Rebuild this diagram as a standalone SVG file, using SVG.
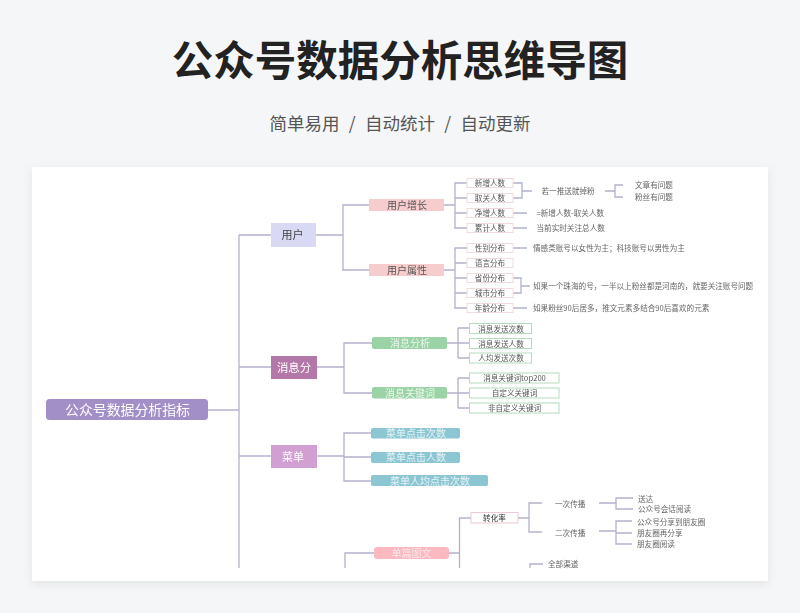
<svg xmlns="http://www.w3.org/2000/svg" width="800" height="613" viewBox="0 0 800 613">
<style>
text{font-family:"Noto Sans CJK SC","Liberation Sans",sans-serif;text-anchor:middle;dominant-baseline:central;transform:translateY(-0.8px)}
.c path{fill:none;stroke:#b3b1cb;stroke-width:1.3}
.l{font-size:7.6px;fill:#555;transform:translateY(-0.3px)}
.t{font-size:7.6px;fill:#666;text-anchor:start;transform:translateY(-0.3px)}
.w{fill:#fff}
.box{fill:#fff;stroke-width:1}
.pk{stroke:#f0dcdc}
.gn{stroke:#b5dcbc}
</style>
<defs>
<filter id="soft" x="-2%" y="-2%" width="104%" height="104%"><feGaussianBlur stdDeviation="0.35"/></filter>
<filter id="sh" x="-5%" y="-5%" width="110%" height="110%"><feGaussianBlur stdDeviation="5"/></filter>
</defs>
<rect width="800" height="613" fill="#f5f6f7"/>
<text x="400" y="58.500" font-size="41.500" font-weight="700" fill="#222">公众号数据分析思维导图</text>
<text x="400" y="123.500" font-size="17.500" fill="#555" xml:space="preserve" word-spacing="0.750">简单易用  /  自动统计  /  自动更新</text>
<rect x="32" y="170" width="736" height="414" fill="#d5d9d9" opacity=".6" filter="url(#sh)"/>
<rect x="32" y="167" width="736" height="414" fill="#fff"/>
<g filter="url(#soft)">
<g class="c" id="connectors">
<path d="M208 410H239M239 235V568M239 235H271M239 367H271M239 456H271"/>
<path d="M316 235H343M369 205H343V270H369"/>
<path d="M444 205H455M467 183H455V228H467M455 198H467M455 213H467"/>
<path d="M444 270H455M467 248H455V308H467M455 263H467M455 278H467M455 293H467"/>
<path d="M513 183H522V198H513M522 191H532M605 191H615M623 185H615V197H623M513 213H527M513 228H527"/>
<path d="M513 248H527M513 278H521V293H513M521 286H530M513 308H527"/>
<path d="M317 367H344M372 343H344V393H372"/>
<path d="M447 343H469M458 328H469M458 358H469M458 328V358"/>
<path d="M447 393H469M458 378H469M458 408H469M458 378V408"/>
<path d="M317 456H344M371 433H344V481H371M344 457H371"/>
<path d="M374 553H345V568M449 553H459.500M471 518H459.500V568"/>
<path d="M518 518H529M542 503H529V532H542"/>
<path d="M599 503H616M633 498H616V509H633M599 531H616M632 521H616V544H632M616 533H632"/>
<path d="M543 564H530V568"/>
</g>
<g id="root"><rect x="46" y="399" width="162" height="21" rx="3.500" fill="#a28fc7"/><text class="w" x="127.500" y="410" font-size="13.900">公众号数据分析指标</text></g>
<g id="n-user"><rect x="271" y="223" width="45" height="24" fill="#d9d9f3"/><text x="292.500" y="235" font-size="11" fill="#444">用户</text></g>
<g id="n-msg"><rect x="271" y="356" width="46" height="23" fill="#b378a8"/><text class="w" x="294" y="367.500" font-size="11.400">消息分</text></g>
<g id="n-menu"><rect x="271" y="445" width="46" height="23" fill="#d29fd2"/><text class="w" x="293" y="456.500" font-size="11">菜单</text></g>
<g id="n-growth"><rect x="369" y="199" width="75" height="12" fill="#f6cccc"/><text x="407" y="205.500" font-size="10" fill="#555">用户增长</text></g>
<g id="n-attr"><rect x="369" y="264" width="75" height="12" fill="#f6cccc"/><text x="407" y="270.500" font-size="10" fill="#555">用户属性</text></g>
<g id="n-ma"><rect x="372" y="337" width="75" height="12" rx="2" fill="#9bd3a6"/><text x="410" y="343.500" font-size="10" fill="#e9f6eb">消息分析</text></g>
<g id="n-mk"><rect x="372" y="387" width="75" height="11.500" rx="2" fill="#9bd3a6"/><text x="410" y="393.500" font-size="10" fill="#e9f6eb">消息关键词</text></g>
<g id="n-m1"><rect x="371" y="428" width="89" height="10.500" rx="2" fill="#8cc6d2"/><text x="416" y="433.500" font-size="10" fill="#e6f4f7">菜单点击次数</text></g>
<g id="n-m2"><rect x="371" y="452" width="89" height="11" rx="2" fill="#8cc6d2"/><text x="416" y="457.500" font-size="10" fill="#e6f4f7">菜单点击人数</text></g>
<g id="n-m3"><rect x="371" y="475" width="117" height="11" rx="2" fill="#8cc6d2"/><text x="430" y="481" font-size="10" fill="#e6f4f7">菜单人均点击次数</text></g>
<g id="n-art"><rect x="374" y="547" width="75" height="12" rx="3" fill="#fcb9c0"/><text x="411.500" y="553.500" font-size="10" fill="#fde6e8">单篇图文</text></g>
<g id="u1"><rect class="box pk" x="467" y="178.500" width="46" height="9"/><text class="l" x="490" y="183">新增人数</text></g>
<g id="u2"><rect class="box pk" x="467" y="193.500" width="46" height="9"/><text class="l" x="490" y="198">取关人数</text></g>
<g id="u3"><rect class="box pk" x="467" y="208.500" width="46" height="9"/><text class="l" x="490" y="213">净增人数</text></g>
<g id="u4"><rect class="box pk" x="467" y="223.500" width="46" height="9"/><text class="l" x="490" y="228">累计人数</text></g>
<g id="a1"><rect class="box pk" x="467" y="243.500" width="46" height="9"/><text class="l" x="490" y="248">性别分布</text></g>
<g id="a2"><rect class="box pk" x="467" y="258.500" width="46" height="9"/><text class="l" x="490" y="263">语言分布</text></g>
<g id="a3"><rect class="box pk" x="467" y="273.500" width="46" height="9"/><text class="l" x="490" y="278">省份分布</text></g>
<g id="a4"><rect class="box pk" x="467" y="288.500" width="46" height="9"/><text class="l" x="490" y="293">城市分布</text></g>
<g id="a5"><rect class="box pk" x="467" y="303.500" width="46" height="9"/><text class="l" x="490" y="308">年龄分布</text></g>
<g id="g1"><rect class="box gn" x="469.500" y="323.500" width="62" height="10"/><text class="l" x="501" y="328.500">消息发送次数</text></g>
<g id="g2"><rect class="box gn" x="469.500" y="338.500" width="62" height="10"/><text class="l" x="501" y="343.500">消息发送人数</text></g>
<g id="g3"><rect class="box gn" x="469.500" y="353" width="62" height="10"/><text class="l" x="501" y="358">人均发送次数</text></g>
<g id="k1"><rect class="box gn" x="469.500" y="373" width="89.500" height="10"/><text class="l" x="514.500" y="378">消息关键词top200</text></g>
<g id="k2"><rect class="box gn" x="469.500" y="388" width="89.500" height="10"/><text class="l" x="514.500" y="393">自定义关键词</text></g>
<g id="k3"><rect class="box gn" x="469.500" y="403" width="89.500" height="10"/><text class="l" x="514.500" y="408">非自定义关键词</text></g>
<g id="conv"><rect class="box" stroke="#efc9cf" x="471" y="512.500" width="47" height="10.500"/><text class="l" x="494.500" y="518" style="fill:#333">转化率</text></g>
<g id="notes">
<text class="t" x="541.500" y="191">若一推送就掉粉</text>
<text class="t" x="635" y="185">文章有问题</text>
<text class="t" x="635" y="197">粉丝有问题</text>
<text class="t" x="536.500" y="213">=新增人数-取关人数</text>
<text class="t" x="536.500" y="228">当前实时关注总人数</text>
<text class="t" x="533" y="248">情感类账号以女性为主；科技账号以男性为主</text>
<text class="t" x="533" y="286">如果一个珠海的号，一半以上粉丝都是河南的，就要关注账号问题</text>
<text class="t" x="533" y="308">如果粉丝90后居多，推文元素多结合90后喜欢的元素</text>
<text class="t" x="555" y="503.500">一次传播</text>
<text class="t" x="555" y="532.500">二次传播</text>
<text class="t" x="638" y="498.500">送达</text>
<text class="t" x="638" y="509">公众号会话阅读</text>
<text class="t" x="637" y="522">公众号分享到朋友圈</text>
<text class="t" x="637" y="533">朋友圈再分享</text>
<text class="t" x="637" y="544">朋友圈阅读</text>
<text class="t" x="548" y="564">全部渠道</text>
</g>
</g>
</svg>
